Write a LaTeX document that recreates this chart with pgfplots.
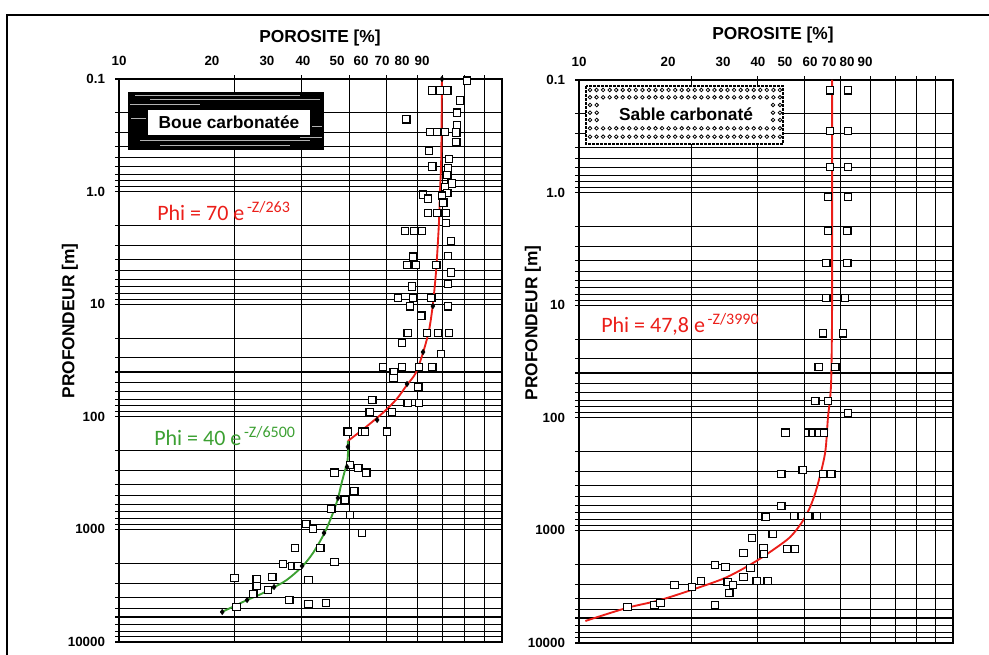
\documentclass[border=0pt]{standalone}
\usepackage{pgfplots}
\pgfplotsset{compat=1.18}
\usepackage{fontspec}
\setmainfont{Liberation Sans}
\newfontfamily\eqfont{Carlito}
\definecolor{eqred}{RGB}{235,30,25}
\definecolor{eqgreen}{RGB}{60,160,50}

\pgfplotstableread{
x y
81.0 0.104
65.7 0.127
68.9 0.127
71.9 0.127
77.7 0.155
76.3 0.20
56.2 0.227
76.3 0.256
64.9 0.296
67.7 0.296
71.0 0.296
75.9 0.30
75.9 0.363
64.5 0.436
72.7 0.513
65.7 0.60
72.3 0.617
71.9 0.712
74.0 0.85
71.0 0.91
71.9 1.03
62.2 1.07
64.1 1.16
69.7 1.09
70.2 1.26
64.1 1.55
67.7 1.55
71.4 1.55
71.4 1.90
55.8 2.24
58.9 2.24
61.8 2.24
73.6 2.75
58.6 3.8
72.3 3.73
56.5 4.49
59.6 4.49
67.3 4.49
73.6 5.2
72.3 6.6
58.2 7.0
53.5 8.8
58.6 8.8
65.3 8.8
57.5 10.4
72.3 10.4
61.5 12.7
56.8 18.0
63.7 18.0
68.1 18.0
72.7 18.0
54.8 22.1
69.3 27.7
48.9 36.1
54.8 36.1
60.7 36.1
65.7 36.1
52.2 40.5
52.0 45.2
60.4 54.3
45.8 70.9
56.8 75.4
60.7 75.4
45.2 90.6
51.6 90.6
50.1 136
39.6 136
43.1 136
43.9 136
36.6 315
40.1 268
42.1 285
44.2 315
41.1 456
38.9 548
35.8 659
40.1 745
30.8 895
32.1 991
43.1 1076
28.8 1463
33.5 1463
26.8 2028
28.3 2113
29.3 2113
36.6 1948
20.0 2700
22.9 2758
25.1 2647
22.9 3183
24.5 3452
31.3 2814
22.4 3747
27.8 4237
31.3 4598
34.7 4504
20.3 4888
}\leftsq

\pgfplotstableread{
x y
69.7 0.1
69.4 0.5
68.9 1
68.4 2
67.3 5
66.0 10
64.5 17
62.2 27
59.5 41
56.5 52
53.0 70
48.9 92
43.9 125
39.6 164
}\leftred

\pgfplotstableread{
x y
39.6 164
39.6 220
39.4 260
38.9 300
37.9 420
37.4 515
36.2 715
34.4 1076
32.1 1621
30.0 2158
27.4 2814
25.2 3313
23.3 3800
21.6 4237
20.0 4800
18.6 5400
}\leftgreen

\pgfplotstableread{
x y
69.7 0.1
66.0 10.4
62.2 26.6
56.5 51.1
47.2 106.7
39.6 185
39.4 279
37.3 526
34.3 1076
30.06 2113
25.4 3248
21.6 4237
18.6 5414
}\leftdots

\pgfplotstableread{
x y
46.9 0.123
52.4 0.123
46.9 0.284
52.4 0.284
46.9 0.593
52.4 0.593
46.3 1.09
52.4 1.09
46.3 2.19
52.1 2.19
45.8 4.22
52.1 4.22
45.8 8.63
51.4 8.63
44.9 17.7
50.8 17.7
43.8 35.4
48.4 35.4
42.8 70.9
46.3 70.9
52.4 90.6
35.6 136
41.0 136
42.2 136
43.8 136
45.2 136
39.7 291
34.7 316
44.9 316
47.2 316
34.7 607
31.6 760
37.6 745
41.0 745
43.3 745
33.0 1076
29.0 1168
31.1 1433
36.0 1463
37.8 1463
31.2 1621
27.5 1588
23.1 2028
24.6 2113
28.7 2158
27.5 2594
25.0 2871
25.8 3053
25.2 3597
29.9 2814
32.0 2814
21.2 2814
18.0 3053
20.05 3183
23.1 4598
13.5 4788
15.9 4598
16.5 4416
}\rightsq

\pgfplotstableread{
x y
47.5 0.1
47.5 1
47.5 10
47.2 50
46.3 100
45.5 205
43.3 412
41.5 619
39.5 842
36.7 1145
33.0 1493
29.2 1948
24.9 2594
21.1 3183
16.5 4150
13.4 4888
10.4 6376
}\rightred

\begin{document}
\begin{tikzpicture}
\path[use as bounding box] (0,0) rectangle (741.75pt,491.25pt);

% left panel
\begin{axis}[at={(89.25pt,9.75pt)}, anchor=south west,
  scale only axis, width=287.25pt, height=422.25pt,
  xmode=log, ymode=log, y dir=reverse,
  xmin=10, xmax=100, ymin=0.1, ymax=10000,
  axis line style={line width=0.9pt},
  xtick pos=right, xticklabel pos=right,
  ytick pos=left, yticklabel pos=left,
  tick align=outside,
  major tick length=0pt, minor tick length=3pt,
  tick style={line width=0.8pt, black},
  xtick={10,17.49,24.34,30.23,37.09,42.84,48.61,54.83,61.82},
  xticklabels={10,20,30,40,50,60,70,80,90},
  minor xtick={20,30,40,50,60,70,80,90},
  ytick={0.1,1,10,100,1000,10000},
  yticklabels={0.1,1.0,10,100,1000,10000},
  minor ytick={0.1,0.2,0.3,0.4,0.5,0.6,0.7,0.8,0.9,1,2,3,4,5,6,7,8,9,10,20,30,40,50,60,70,80,90,100,200,300,400,500,600,700,800,900,1000,2000,3000,4000,5000,6000,7000,8000,9000,10000},
  xmajorgrids=false, xminorgrids=true, ymajorgrids=false, yminorgrids=true,
  minor grid style={line width=0.8pt, black},
  tick label style={font=\bfseries\fontsize{10}{12}\selectfont},
  yticklabel style={xshift=-7pt}, xticklabel style={yshift=6.5pt}]
\addplot[only marks, mark=square*, mark size=2.9pt, mark options={fill=white, draw=black, line width=0.85pt}] table[x=x,y=y] {\leftsq};
\addplot[eqred, line width=1.4pt, smooth, no marks] table[x=x,y=y] {\leftred};
\addplot[eqgreen, line width=1.4pt, smooth, no marks] table[x=x,y=y] {\leftgreen};
\addplot[only marks, mark=diamond*, mark size=2pt, black] table[x=x,y=y] {\leftdots};
\end{axis}

% right panel
\begin{axis}[at={(434.25pt,9pt)}, anchor=south west,
  scale only axis, width=280.5pt, height=422.25pt,
  xmode=log, ymode=log, y dir=reverse,
  xmin=10, xmax=100, ymin=0.1, ymax=10000,
  axis line style={line width=0.9pt},
  xtick pos=right, xticklabel pos=right,
  ytick pos=left, yticklabel pos=left,
  tick align=outside,
  major tick length=0pt, minor tick length=3pt,
  tick style={line width=0.8pt, black},
  xtick={10,17.30,24.27,30.10,35.54,41.47,46.61,52.07,58.18},
  xticklabels={10,20,30,40,50,60,70,80,90},
  minor xtick={20,30,40,50,60,70,80,90},
  ytick={0.1,1,10,100,1000,10000},
  yticklabels={0.1,1.0,10,100,1000,10000},
  minor ytick={0.1,0.2,0.3,0.4,0.5,0.6,0.7,0.8,0.9,1,2,3,4,5,6,7,8,9,10,20,30,40,50,60,70,80,90,100,200,300,400,500,600,700,800,900,1000,2000,3000,4000,5000,6000,7000,8000,9000,10000},
  xmajorgrids=false, xminorgrids=true, ymajorgrids=false, yminorgrids=true,
  minor grid style={line width=0.8pt, black},
  tick label style={font=\bfseries\fontsize{10}{12}\selectfont},
  yticklabel style={xshift=-7pt}, xticklabel style={yshift=6.5pt}]
\addplot[only marks, mark=square*, mark size=2.9pt, mark options={fill=white, draw=black, line width=0.85pt}] table[x=x,y=y] {\rightsq};
\addplot[eqred, line width=1.4pt, smooth, no marks] table[x=x,y=y] {\rightred};
\end{axis}

\begin{scope}[shift={(0pt,491.25pt)}, x=0.75pt, y=-0.75pt]
% frame
\draw[line width=2.2pt] (7,660) -- (7,15) -- (995,15);
% titles
\node[font=\bfseries\fontsize{13}{15}\selectfont] at (320,38) {POROSITE [\%]};
\node[font=\bfseries\fontsize{13}{15}\selectfont] at (773,35) {POROSITE [\%]};
\node[font=\bfseries\fontsize{13}{15}\selectfont, rotate=90] at (70,321) {PROFONDEUR [m]};
\node[font=\bfseries\fontsize{13}{15}\selectfont, rotate=90] at (533,323) {PROFONDEUR [m]};
% Boue carbonatee box
\fill[black] (128,92) rectangle (324,150);
\foreach \yy/\xa/\xb in {95/135/300,99/150/320,104/130/200,140/140/310,145/160/290,137/300/322,118/131/146,126/312/322}{
  \draw[gray!60, line width=0.5pt] (\xa,\yy) -- (\xb,\yy);
}
\fill[white] (148,110) rectangle (310,135);
\node[font=\bfseries\fontsize{13}{15}\selectfont] at (229,122.5) {Boue carbonatée};
% Sable carbonate box
\fill[white] (586,86) rectangle (783,144);
\draw[line width=0.8pt, dash pattern=on 2pt off 1pt] (586,86) rectangle (783,144);
\foreach \i in {0,...,29}{
  \draw[line width=0.6pt] (590+\i*6.55,90) circle[radius=1.35pt];
  \draw[line width=0.6pt] (590+\i*6.55,97.3) circle[radius=1.35pt];
  \draw[line width=0.6pt] (590+\i*6.55,128.3) circle[radius=1.35pt];
  \draw[line width=0.6pt] (590+\i*6.55,136.7) circle[radius=1.35pt];
}
\foreach \yy in {105,112.7,120}{
  \draw[line width=0.6pt] (590,\yy) circle[radius=1.35pt];
  \draw[line width=0.6pt] (596.7,\yy) circle[radius=1.35pt];
  \draw[line width=0.6pt] (773,\yy) circle[radius=1.35pt];
  \draw[line width=0.6pt] (780,\yy) circle[radius=1.35pt];
}
\node[font=\bfseries\fontsize{13}{15}\selectfont] at (686,114) {Sable carbonaté};
% equations
\node[anchor=base west, inner sep=0pt, text=eqred] at (157,221)
  {\eqfont\fontsize{16.5}{18}\selectfont Phi = 70 e\hspace{2pt}\raisebox{6.5pt}{\fontsize{12}{14}\selectfont -Z/263}};
\node[anchor=base west, inner sep=0pt, text=eqgreen] at (154,446)
  {\eqfont\fontsize{16.5}{18}\selectfont Phi = 40 e\hspace{2pt}\raisebox{6.5pt}{\fontsize{12}{14}\selectfont -Z/6500}};
\node[anchor=base west, inner sep=0pt, text=eqred] at (601,333)
  {\eqfont\fontsize{16.5}{18}\selectfont Phi = 47,8 e\hspace{2pt}\raisebox{6.5pt}{\fontsize{12}{14}\selectfont -Z/3990}};
\end{scope}
\end{tikzpicture}
\end{document}
